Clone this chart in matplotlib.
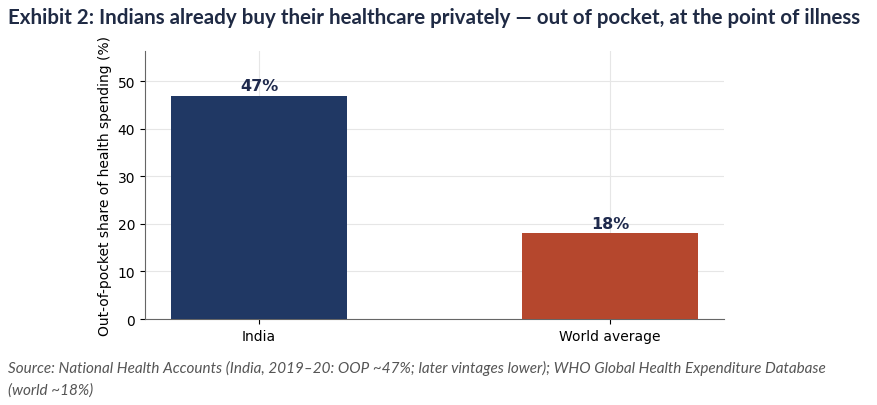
import matplotlib
matplotlib.use("Agg")
import matplotlib.pyplot as plt

categories = ["India", "World average"]
values = [47, 18]
labels = ["47%", "18%"]
colors = ["#203864", "#b5472d"]

title = "Exhibit 2: Indians already buy their healthcare privately \u2014 out of pocket, at the point of illness"
source_lines = ["Source: National Health Accounts (India, 2019\u201320: OOP ~47%; later vintages lower); WHO Global Health Expenditure Database",
                "(world ~18%)"]

fig = plt.figure(figsize=(8.77, 4.06), dpi=100)
ax = fig.add_axes([145/877, 1-320/406, (724-145)/877, (320-52)/406])

x = range(len(categories))
ax.bar(x, values, width=0.5, color=colors, zorder=3)
for xi, v, lab in zip(x, values, labels):
    ax.text(xi, v + 0.6, lab, ha="center", va="bottom", fontsize=11.5,
            fontweight="bold", color="#1f2a4d", zorder=4)

ax.set_xticks(list(x))
ax.set_xticklabels(categories, fontsize=10)
ax.set_ylim(0, max(values) * 1.2)
ax.set_yticks([0, 10, 20, 30, 40, 50])
ax.tick_params(axis="y", labelsize=10)
ax.set_ylabel("Out-of-pocket share of health spending (%)", fontsize=10)
ax.grid(True, color="#e6e6e6", linewidth=0.8, zorder=0)
ax.set_axisbelow(True)
for s in ["top", "right"]:
    ax.spines[s].set_visible(False)
for s in ["left", "bottom"]:
    ax.spines[s].set_color("#666666")

renderer = fig.canvas.get_renderer()

def fit(t, target_px):
    bb = t.get_window_extent(renderer)
    t.set_fontsize(t.get_fontsize() * target_px / bb.width)

t1 = fig.text(8/877, 1-18/406, title, fontsize=14, fontweight="bold",
              family="Lato", color="#1f2a44", va="center", ha="left")
fit(t1, 858)
s1 = fig.text(8/877, 1-368/406, source_lines[0], fontsize=10, style="italic",
              family="Lato", color="#555555", va="center", ha="left")
fit(s1, 820)
s2 = fig.text(8/877, 1-391/406, source_lines[1], fontsize=s1.get_fontsize(), style="italic",
              family="Lato", color="#555555", va="center", ha="left")

fig.savefig("out.png", dpi=100)
